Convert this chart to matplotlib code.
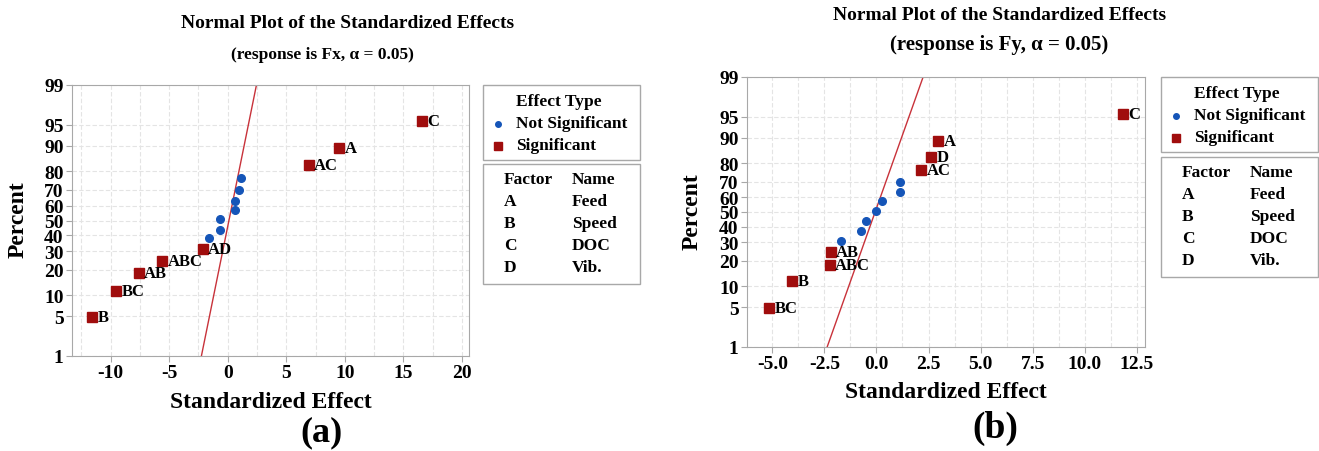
import numpy as np
import matplotlib
matplotlib.use('Agg')
import matplotlib.pyplot as plt
from matplotlib.patches import Rectangle
from matplotlib.lines import Line2D
from matplotlib.ticker import MultipleLocator, FormatStrFormatter
from statistics import NormalDist

plt.rcParams['font.family'] = ['Liberation Serif', 'DejaVu Serif']
plt.rcParams['font.weight'] = 'bold'
plt.rcParams['axes.unicode_minus'] = False

# Fx data (standardized effects and normal percentiles)
fx_x = [-11.6, -9.55, -7.6, -5.6, -2.15, -1.6, -0.65, -0.65, 0.65, 0.65, 0.95, 1.1, 6.9, 9.5, 16.55]
fx_pct = [4.8, 11.3, 18.2, 24.5, 31.1, 38.0, 43.7, 51.0, 57.3, 63.3, 70.1, 76.5, 82.9, 89.3, 95.6]
fx_terms = ['B', 'BC', 'AB', 'ABC', 'AD', '', '', '', '', '', '', '', 'AC', 'A', 'C']
fx_sig = [1, 1, 1, 1, 1, 0, 0, 0, 0, 0, 0, 0, 1, 1, 1]
fx_line_x = [-2.25, 2.45]

# Fy data
fy_x = [-5.15, -4.05, -2.25, -2.2, -1.7, -0.72, -0.5, 0.0, 0.25, 1.15, 1.15, 2.13, 2.6, 2.95, 11.85]
fy_pct = [4.9, 11.6, 18.0, 24.4, 30.9, 37.4, 43.6, 50.9, 57.3, 63.2, 70.0, 76.6, 82.9, 89.0, 95.4]
fy_terms = ['BC', 'B', 'ABC', 'AB', '', '', '', '', '', '', '', 'AC', 'D', 'A', 'C']
fy_sig = [1, 1, 1, 1, 0, 0, 0, 0, 0, 0, 0, 1, 1, 1, 1]
fy_line_x = [-2.37, 2.24]

line_pct = [1, 99]
pct_ticks = [1, 5, 10, 20, 30, 40, 50, 60, 70, 80, 90, 95, 99]
factors = ['A', 'B', 'C', 'D']
factor_names = ['Feed', 'Speed', 'DOC', 'Vib.']

RED = '#a00d0d'
BLUE = '#1555b8'
LINE = '#c8323a'
GRAY = '#a8a8a8'

W, H = 1319, 452
fig = plt.figure(figsize=(W / 100, H / 100), dpi=100)


def fx_(x):
    return x / W


def fy_(y):
    return 1 - y / H


_nd = NormalDist()
_fwd = np.vectorize(lambda p: _nd.inv_cdf(min(max(p, 1e-6), 100 - 1e-6) / 100), otypes=[float])
_inv = np.vectorize(lambda z: _nd.cdf(z) * 100, otypes=[float])


def forward(p):
    return _fwd(np.asarray(p, dtype=float))


def inverse(z):
    return _inv(np.asarray(z, dtype=float))


def panel(box, xs, pcts, terms, sig, line_x, xlim, major, fmt):
    l, t, r, b = box
    ax = fig.add_axes([fx_(l), fy_(b), (r - l) / W, (b - t) / H])
    ax.set_yscale('function', functions=(forward, inverse))
    xs = np.array(xs)
    pcts = np.array(pcts)
    sig = np.array(sig, dtype=bool)
    ax.plot(line_x, line_pct, color=LINE, lw=1.0, zorder=2)
    ax.plot(xs[~sig], pcts[~sig], 'o', color=BLUE, ms=5.5, zorder=3)
    ax.plot(xs[sig], pcts[sig], 's', color=RED, ms=6.5, zorder=3)
    for x, p, s in zip(xs, pcts, terms):
        if s:
            ax.annotate(s, (x, p), xytext=(4, 0), textcoords='offset points',
                        va='center', ha='left', fontsize=12, fontweight='bold')
    ax.set_xlim(*xlim)
    ax.set_ylim(1, 99)
    ax.set_yticks(pct_ticks)
    ax.set_yticklabels([str(v) for v in pct_ticks])
    ax.yaxis.set_minor_locator(plt.NullLocator())
    ax.xaxis.set_major_locator(MultipleLocator(major))
    ax.xaxis.set_minor_locator(MultipleLocator(major / 2))
    ax.xaxis.set_major_formatter(FormatStrFormatter(fmt))
    ax.grid(True, which='both', axis='x', color='#e4e4e4', ls=(0, (4, 2)), lw=0.8)
    ax.grid(True, which='major', axis='y', color='#e4e4e4', ls=(0, (4, 2)), lw=0.8)
    ax.tick_params(which='major', length=4, color=GRAY, labelsize=14, pad=2)
    ax.tick_params(which='minor', length=0)
    for sp in ax.spines.values():
        sp.set_color(GRAY)
    ax.set_axisbelow(True)
    return ax


def legend(left, top, top2):
    w = 157
    fig.add_artist(Rectangle((fx_(left), fy_(top + 75)), w / W, 75 / H,
                             transform=fig.transFigure, fill=False, ec=GRAY, lw=1))
    fig.add_artist(Rectangle((fx_(left), fy_(top2 + 120)), w / W, 120 / H,
                             transform=fig.transFigure, fill=False, ec=GRAY, lw=1))
    fig.text(fx_(left + 33), fy_(top + 16), 'Effect Type', fontsize=12.5, va='center')
    fig.text(fx_(left + 33), fy_(top + 38), 'Not Significant', fontsize=12.5, va='center')
    fig.text(fx_(left + 33), fy_(top + 60), 'Significant', fontsize=12.5, va='center')
    fig.add_artist(Line2D([fx_(left + 15)], [fy_(top + 39)], marker='o', color=BLUE,
                          ms=4, transform=fig.transFigure))
    fig.add_artist(Line2D([fx_(left + 15)], [fy_(top + 61)], marker='s', color=RED,
                          ms=5.5, transform=fig.transFigure))
    fig.text(fx_(left + 21), fy_(top2 + 15), 'Factor', fontsize=12.5, va='center')
    fig.text(fx_(left + 89), fy_(top2 + 15), 'Name', fontsize=12.5, va='center')
    for i, (f, n) in enumerate(zip(factors, factor_names)):
        y = top2 + 37 + i * 22
        fig.text(fx_(left + 21), fy_(y), f, fontsize=12.5, va='center')
        fig.text(fx_(left + 89), fy_(y), n, fontsize=12.5, va='center')


# panel (a)
panel((72, 86, 469, 357), fx_x, fx_pct, fx_terms, fx_sig, fx_line_x, (-13.3, 20.6), 5, '%d')
fig.text(fx_(348), fy_(24), 'Normal Plot of the Standardized Effects', fontsize=14,
         ha='center', va='center')
fig.text(fx_(322), fy_(55), '(response is Fx, α = 0.05)', fontsize=12.5,
         ha='center', va='center')
fig.text(fx_(18), fy_(220), 'Percent', fontsize=17, rotation=90, ha='center', va='center')
fig.text(fx_(271), fy_(402), 'Standardized Effect', fontsize=17, ha='center', va='center')
fig.text(fx_(321), fy_(433), '(a)', fontsize=26, ha='center', va='center')
legend(483, 86, 165)

# panel (b)
panel((747, 78, 1145, 348), fy_x, fy_pct, fy_terms, fy_sig, fy_line_x, (-6.22, 12.9), 2.5, '%.1f')
fig.text(fx_(1000), fy_(15), 'Normal Plot of the Standardized Effects', fontsize=14,
         ha='center', va='center')
fig.text(fx_(999), fy_(45), '(response is Fy, α = 0.05)', fontsize=15,
         ha='center', va='center')
fig.text(fx_(692), fy_(212), 'Percent', fontsize=17, rotation=90, ha='center', va='center')
fig.text(fx_(946), fy_(393), 'Standardized Effect', fontsize=17, ha='center', va='center')
fig.text(fx_(995), fy_(428), '(b)', fontsize=27, ha='center', va='center')
legend(1161, 78, 158)

fig.savefig('out.png', dpi=100)
